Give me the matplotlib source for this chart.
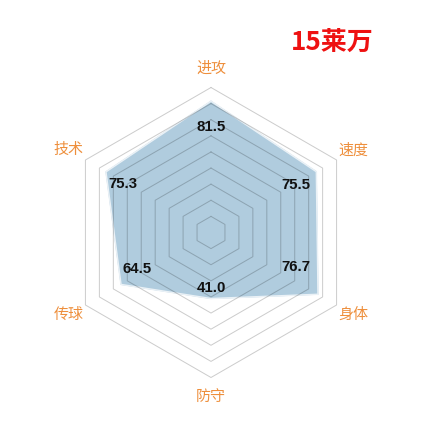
import numpy as np
import matplotlib
matplotlib.use('Agg')
import matplotlib.pyplot as plt

plt.rcParams['font.family'] = ['Noto Sans CJK SC', 'DejaVu Sans']

# Data
categories = ['进攻', '速度', '身体', '防守', '传球', '技术']
values = [81.5, 75.5, 76.7, 41.0, 64.5, 75.3]
title = '15莱万'
r_max = 90
r_step = 10

# label offsets (points) for the value labels
label_offsets = [(0, -26), (-20, -13), (-22, 27), (0, 11), (16, 15), (17, -12)]

angles = np.deg2rad([90, 30, -30, -90, -150, 150])

fig = plt.figure(figsize=(447 / 72, 437 / 72), dpi=72)
ax = fig.add_axes([0, 0, 1, 1])
scale = 90 / 145.0  # data units per pixel
ax.set_xlim(-211 * scale, (447 - 211) * scale)
ax.set_ylim(-(437 - 232.5) * scale, 232.5 * scale)
ax.set_aspect('equal')
ax.axis('off')

cx = np.cos(np.append(angles, angles[0]))
cy = np.sin(np.append(angles, angles[0]))

# data polygon
vals = np.array(values + values[:1])
ax.fill(vals * cx, vals * cy, color='#b0ccde', zorder=1)
ax.plot(vals * cx, vals * cy, color='#eaf1f6', lw=1.5, zorder=2)

# grid rings (semi-transparent so they darken over the fill)
for r in range(r_step, r_max + 1, r_step):
    ax.plot(r * cx, r * cy, color='black', alpha=0.2, lw=1.0, zorder=3)

# value labels
for a, v, off in zip(angles, values, label_offsets):
    ax.annotate(f'{v:.1f}', xy=(v * np.cos(a), v * np.sin(a)), xytext=off,
                textcoords='offset points', ha='center', va='center',
                fontsize=15, fontweight='bold', color='#111111',
                family=['Liberation Sans', 'DejaVu Sans'], zorder=4)

# category labels
for a, c in zip(angles, categories):
    ax.text(102 * np.cos(a), 102 * np.sin(a), c, ha='center', va='center',
            fontsize=15, color='#ee8f3c')

fig.text(332 / 447, 1 - 42 / 437, title, ha='center', va='center',
         fontsize=26, fontweight='bold', color='#ee1111')

fig.savefig('out.png', dpi=72)
